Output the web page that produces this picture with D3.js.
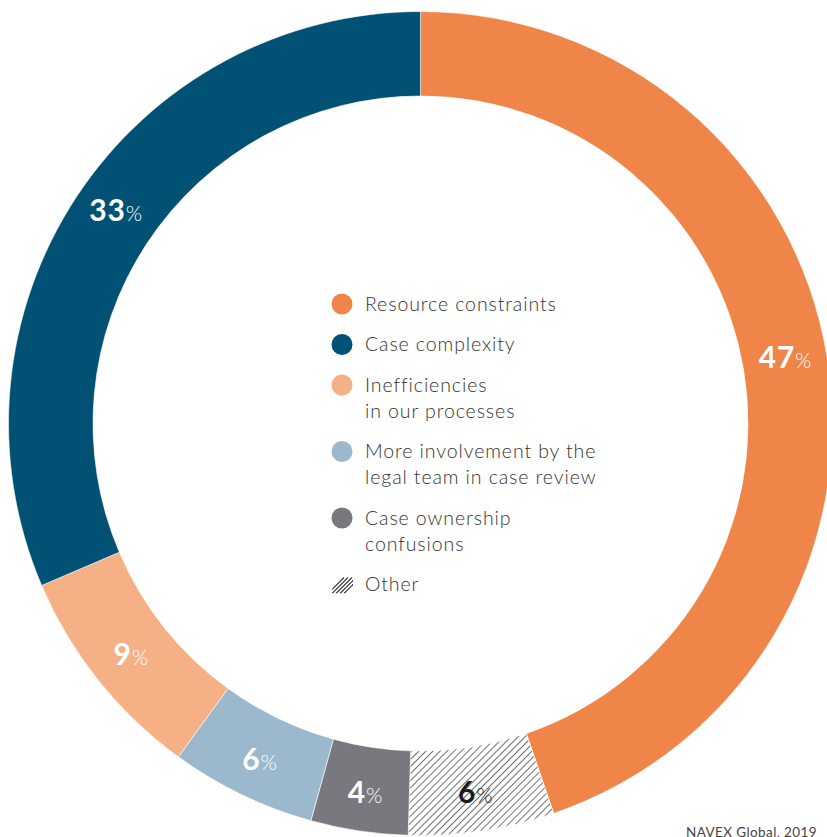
<!DOCTYPE html>
<html><head><meta charset="utf-8">
<script src="https://cdn.jsdelivr.net/npm/d3@7"></script>
<style>body{margin:0;background:#fff;} svg{display:block;}</style>
</head><body>
<svg id="chart" width="827" height="837"></svg>
<script>
const categories = ["Resource constraints","Other","Case ownership confusions","More involvement by the legal team in case review","Inefficiencies in our processes","Case complexity"];
const values = [47, 6, 4, 6, 9, 33];
const colors = ["#F0854A","url(#hatch)","#78787E","#9BB8CD","#F5B185","#005174"];
const labelColors = ["#fff","#1a1a1a","#fff","#fff","#fff","#fff"];
const legendItems = [["Resource constraints"],["Case complexity"],["Inefficiencies","in our processes"],["More involvement by the","legal team in case review"],["Case ownership","confusions"],["Other"]];
const legendColors = ["#F0854A","#005174","#F5B185","#9BB8CD","#78787E","hatch"];
const source = "NAVEX Global, 2019";

const svg = d3.select("#chart");
const font = "Lato, 'Noto Sans', sans-serif";
const defs = svg.append("defs");
const pat = defs.append("pattern").attr("id","hatch").attr("patternUnits","userSpaceOnUse")
  .attr("width",5).attr("height",5).attr("patternTransform","rotate(45)");
pat.append("rect").attr("width",5).attr("height",5).attr("fill","#fff");
pat.append("line").attr("x1",0).attr("y1",0).attr("x2",0).attr("y2",5).attr("stroke","#222").attr("stroke-width",1.3);

const cx = 420.5, cy = 423.5, rO = 412, rI = 327.5;
const g = svg.append("g").attr("transform",`translate(${cx},${cy})`);
const pie = d3.pie().sort(null).value(d=>d);
const arcs = pie(values);
const arc = d3.arc().innerRadius(rI).outerRadius(rO);
g.selectAll("path").data(arcs).join("path").attr("d",arc)
  .attr("fill",(d,i)=>colors[i]).attr("stroke","#fff").attr("stroke-width",0.6);

const labArc = d3.arc().innerRadius(370).outerRadius(370);
arcs.forEach((d,i)=>{
  const [x,y] = labArc.centroid(d);
  const mid = (d.startAngle + d.endAngle)/2;
  const shift = 10 - 4 - 8*Math.cos(mid);
  const xs = 4*Math.max(0, Math.cos(mid)) * (Math.sin(mid) < 0 ? 1 : 0) * 2;
  const t = g.append("text").attr("x",x+xs).attr("y",y+shift).attr("text-anchor","middle")
    .attr("fill",labelColors[i]).style("font-family",font).style("letter-spacing","0.8px");
  t.append("tspan").text(values[i]).style("font-weight","700").style("font-size","30px");
  t.append("tspan").text("%").style("font-weight","300").style("font-size","21px");
});

const lg = svg.append("g");
let y = 304;
legendItems.forEach((lines,i)=>{
  if(legendColors[i]==="hatch"){
    const hg = lg.append("g");
    for(let k=0;k<5;k++){
      const off = -8 + k*4;
      hg.append("line").attr("x1",342+off-6).attr("y1",y+9).attr("x2",342+off+10).attr("y2",y-7)
        .attr("stroke","#333").attr("stroke-width",1.1);
    }
    hg.attr("clip-path","url(#hclip)");
    defs.append("clipPath").attr("id","hclip").append("rect").attr("x",332).attr("y",y-8).attr("width",21).attr("height",17);
  } else {
    lg.append("circle").attr("cx",342).attr("cy",y).attr("r",10.5).attr("fill",legendColors[i]);
  }
  lines.forEach((ln,j)=>{
    lg.append("text").attr("x",365).attr("y",y+j*26).attr("dy","0.35em").text(ln)
      .attr("fill","#333").style("font-family",font).style("font-size","19.5px")
      .style("font-weight","300").style("letter-spacing","0.9px");
  });
  y += 26*(lines.length-1) + 40.5;
});

svg.append("text").attr("x",686).attr("y",837).text(source).attr("fill","#444")
  .style("font-family",font).style("font-size","13.5px").style("letter-spacing","0.4px");
</script>
</body></html>
